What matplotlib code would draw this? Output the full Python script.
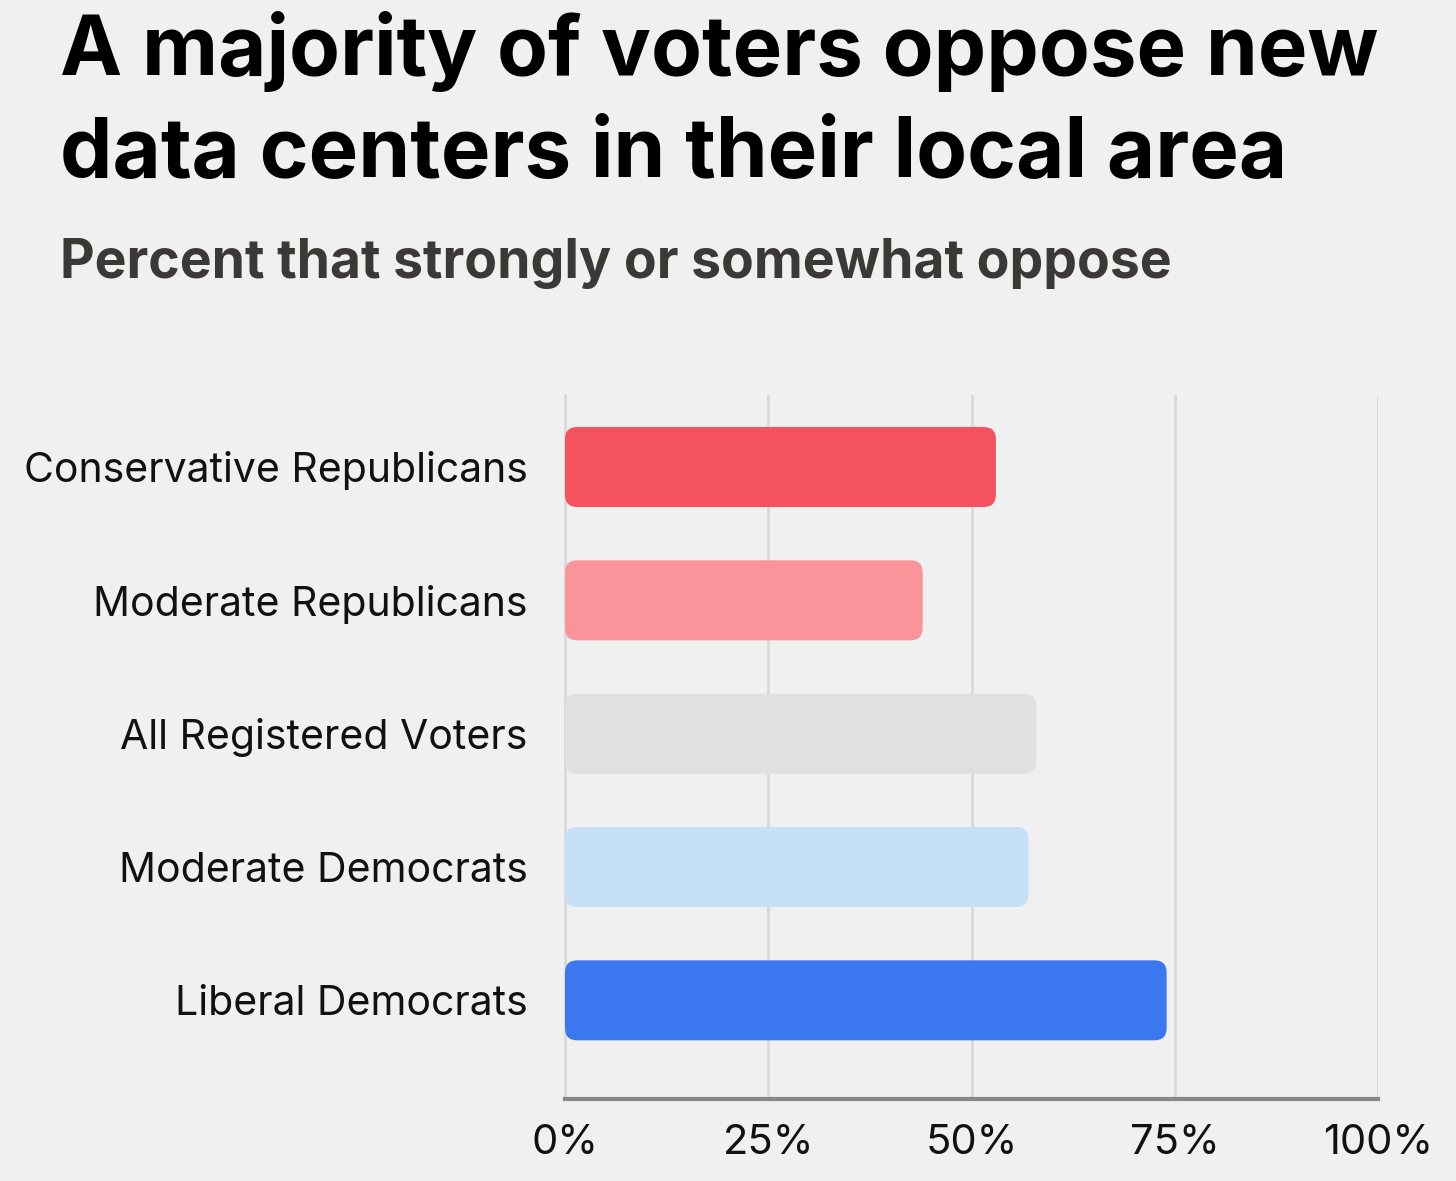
import matplotlib
matplotlib.use("Agg")
import matplotlib.pyplot as plt
from matplotlib.patches import FancyBboxPatch

groups = ["Liberal Democrats", "Moderate Democrats", "All Registered Voters",
          "Moderate Republicans", "Conservative Republicans"]
oppose = [74, 57, 58, 44, 53]
colors = ["#3B78F0", "#C5E0F7", "#E0E0E0", "#F9959A", "#F4525C"]
ticks = [0, 25, 50, 75, 100]
tick_labels = ["0%", "25%", "50%", "75%", "100%"]

bg = "#F0F0F0"
plt.rcParams['font.family'] = ['Inter', 'DejaVu Sans']

fig = plt.figure(figsize=(14.56, 11.81), dpi=100, facecolor=bg)
ax = fig.add_axes([565/1456, 1 - 1099/1181, 813/1456, 704/1181], facecolor=bg)

ypos = list(range(len(groups)))
bars = ax.barh(ypos, oppose, height=0.6)
ax.set_xlim(0, 100)
ax.set_ylim(-0.74, 4.54)

# swap plain bars for rounded ones
px_x = 813 / 100
px_y = 704 / 5.28
for b, c in zip(bars, colors):
    x, y, w, h = b.get_x(), b.get_y(), b.get_width(), b.get_height()
    b.remove()
    p = FancyBboxPatch((x, y), w, h, boxstyle="round,pad=0,rounding_size=1.5",
                       mutation_aspect=px_x / px_y, fc=c, ec="none", zorder=3)
    ax.add_patch(p)

ax.set_xticks(ticks)
ax.set_xticklabels(tick_labels, fontsize=30, color="#111111")
ax.set_yticks(ypos)
ax.set_yticklabels(groups, fontsize=29.5, color="#111111")
ax.tick_params(axis="both", length=0)
ax.tick_params(axis="x", pad=18)
ax.tick_params(axis="y", pad=27)
ax.grid(axis="x", color="#D9D9D9", lw=2, zorder=0)
for s in ["top", "right"]:
    ax.spines[s].set_visible(False)
ax.spines["left"].set_color("#D9D9D9")
ax.spines["left"].set_linewidth(2)
ax.spines["bottom"].set_color("#888888")
ax.spines["bottom"].set_linewidth(3)

title_lines = ["A majority of voters oppose new", "data centers in their local area"]
for line, base in zip(title_lines, [75, 177]):
    fig.text(60/1456, 1 - base/1181, line, fontsize=60, fontweight="bold",
             color="#000000", va="baseline")
fig.text(60/1456, 1 - 278/1181, "Percent that strongly or somewhat oppose",
         fontsize=38.5, fontweight="bold", color="#3B3935", va="baseline")

fig.savefig("out.png", dpi=100, facecolor=bg)
